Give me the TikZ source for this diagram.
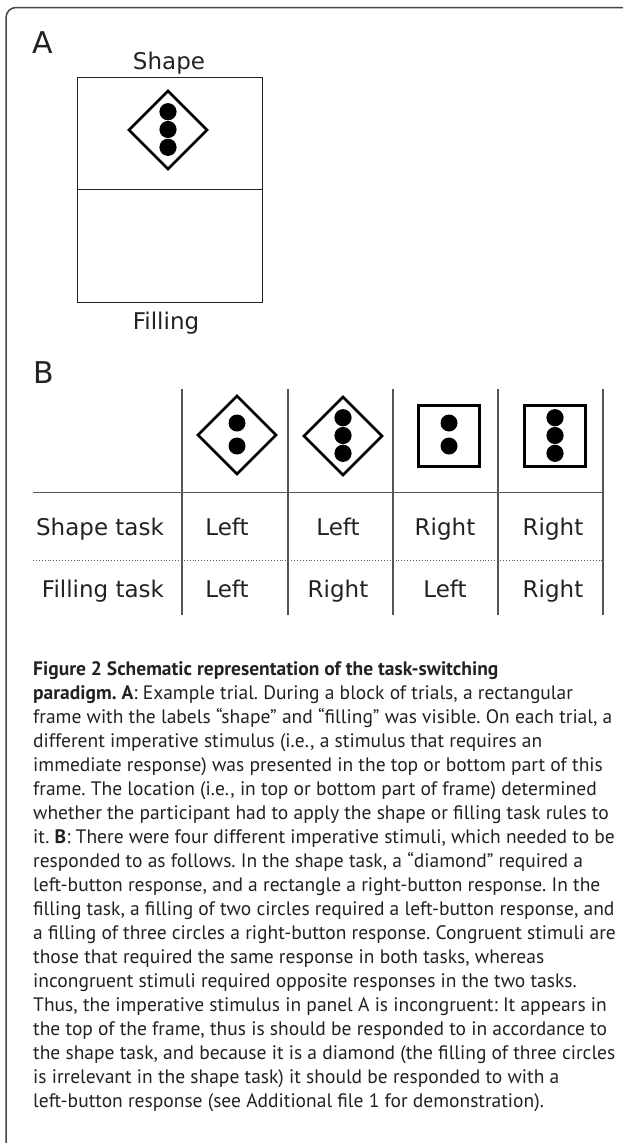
\documentclass[tikz,border=0pt]{standalone}
\usepackage{fontspec}
\setmainfont{DejaVu Sans}
\newfontfamily\dejavu{DejaVu Sans}
\newfontfamily\capfont{PT Sans}
\definecolor{txt}{HTML}{222222}
\definecolor{rule}{HTML}{555555}
\definecolor{bord}{HTML}{444444}
\frenchspacing
\begin{document}
\begin{tikzpicture}[x=1pt,y=-1pt,
  big/.style={font=\dejavu\fontsize{30}{36}\selectfont, inner sep=0pt, text=txt, anchor=base west},
  lbl/.style={font=\dejavu\fontsize{23}{28}\selectfont, inner sep=0pt, text=txt, anchor=base},
  captxt/.style={font=\capfont\fontsize{19.5}{24}\selectfont\frenchspacing, inner sep=0pt, text=txt, anchor=base west},
  stimline/.style={draw=black, line width=2.6pt},
  sqline/.style={draw=black, line width=3pt},
  gridline/.style={draw=rule, line width=1.1pt},
  diam/.pic={\draw[stimline] (0,-39) -- (39,0) -- (0,39) -- (-39,0) -- cycle;},
  sq/.pic={\draw[sqline] (-30.5,-30.5) rectangle (30.5,30.5);},
  twodots/.pic={\fill[black] (0,-11.5) circle[radius=8.5pt] (0,11.5) circle[radius=8.5pt];},
  threedots/.pic={\fill[black] (0,-17.8) circle[radius=8.6pt] (0,0) circle[radius=8.6pt] (0,17.8) circle[radius=8.6pt];}
]
\useasboundingbox (0,0) rectangle (622,1143);
% outer border
\draw[draw=bord, line width=1.5pt, rounded corners=10pt] (6,1150) -- (6,7.5) -- (630,7.5);

% ---------- Panel A
\node[big] (panelA) at (32,53) {A};
\node[lbl] (lshape) at (169,69) {Shape};
\node[draw=txt, line width=1pt, minimum width=185pt, minimum height=225pt, inner sep=0pt] (frame) at (169.5,189.5) {};
\draw[draw=txt, line width=1pt] (frame.west) -- (frame.east);
\node[lbl] (lfilling) at (166,329) {Filling};
\pic at (168,130) {diam};
\pic at (168,129.5) {threedots};

% ---------- Panel B
\node[big] (panelB) at (33,383) {B};
% grid
\foreach \x in {182,288,393,498,603} \draw[gridline] (\x,389) -- (\x,615);
\draw[gridline] (33,492.5) -- (603,492.5);
\draw[draw=rule, line width=0.9pt, dotted] (33,560) -- (603,560);
% stimuli
\pic at (237,435) {diam};   \pic at (237,434.5) {twodots};
\pic at (343,436) {diam};   \pic at (343,435.5) {threedots};
\pic at (449,436) {sq};     \pic at (449,434.5) {twodots};
\pic at (555,436) {sq};     \pic at (555,435.5) {threedots};
% row labels
\node[lbl] (rs) at (100,535) {Shape task};
\node[lbl] (rf) at (103,597) {Filling task};
\node[lbl] (s1) at (227,535) {Left};
\node[lbl] (s2) at (338,535) {Left};
\node[lbl] (s3) at (445,535) {Right};
\node[lbl] (s4) at (553,535) {Right};
\node[lbl] (f1) at (227,597) {Left};
\node[lbl] (f2) at (338,597) {Right};
\node[lbl] (f3) at (445,597) {Left};
\node[lbl] (f4) at (553,597) {Right};

% ---------- Caption
\node[captxt] (c1)  at (33,675.5) {\bfseries Figure 2 Schematic representation of the task-switching};
\node[captxt] (c2)  at (33,699.5) {\textbf{paradigm. A}: Example trial. During a block of trials, a rectangular};
\node[captxt] (c3)  at (33,723.5) {frame with the labels “shape” and “filling” was visible. On each trial, a};
\node[captxt] (c4)  at (33,747.5) {different imperative stimulus (i.e., a stimulus that requires an};
\node[captxt] (c5)  at (33,771.5) {immediate response) was presented in the top or bottom part of this};
\node[captxt] (c6)  at (33,795.5) {frame. The location (i.e., in top or bottom part of frame) determined};
\node[captxt] (c7)  at (33,819.5) {whether the participant had to apply the shape or filling task rules to};
\node[captxt] (c8)  at (33,843.5) {it. \textbf{B}: There were four different imperative stimuli, which needed to be};
\node[captxt] (c9)  at (33,867.5) {responded to as follows. In the shape task, a “diamond” required a};
\node[captxt] (c10) at (33,891.5) {left-button response, and a rectangle a right-button response. In the};
\node[captxt] (c11) at (33,915.5) {filling task, a filling of two circles required a left-button response, and};
\node[captxt] (c12) at (33,939.5) {a filling of three circles a right-button response. Congruent stimuli are};
\node[captxt] (c13) at (33,963.5) {those that required the same response in both tasks, whereas};
\node[captxt] (c14) at (33,987.5) {incongruent stimuli required opposite responses in the two tasks.};
\node[captxt] (c15) at (33,1011.5) {Thus, the imperative stimulus in panel A is incongruent: It appears in};
\node[captxt] (c16) at (33,1035.5) {the top of the frame, thus is should be responded to in accordance to};
\node[captxt] (c17) at (33,1059.5) {the shape task, and because it is a diamond (the filling of three circles};
\node[captxt] (c18) at (33,1083.5) {is irrelevant in the shape task) it should be responded to with a};
\node[captxt] (c19) at (33,1107.5) {left-button response (see Additional file 1 for demonstration).};
\end{tikzpicture}
\end{document}
